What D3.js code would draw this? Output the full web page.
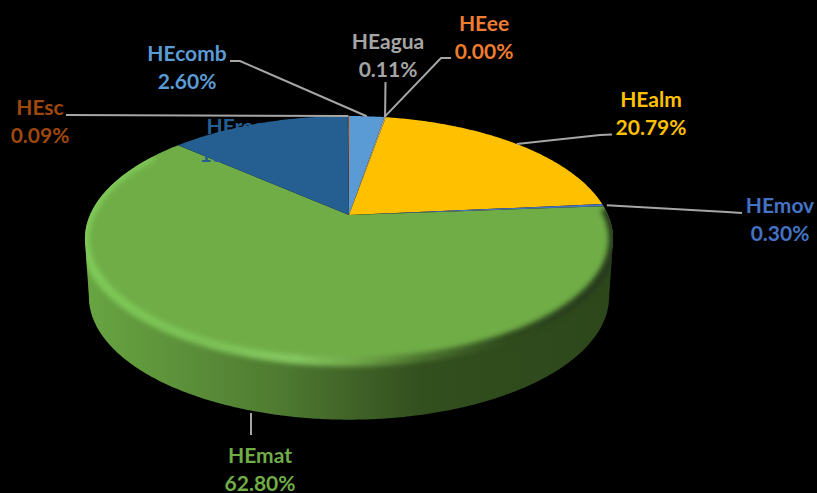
<!DOCTYPE html>
<html>
<head>
<meta charset="utf-8">
<script src="https://cdn.jsdelivr.net/npm/d3@7"></script>
<style>
  body { margin: 0; background: #000; }
  text { font-family: Lato, "Open Sans", sans-serif; font-weight: 700; font-size: 21px; text-anchor: middle; }
</style>
</head>
<body>
<div id="viz"></div>
<script>
// slice order follows the legend order of the original chart
const categories = ["HEcomb", "HEee", "HEagua", "HEalm", "HEmov", "HEmat", "HErec", "HEsc"]
const shares = [2.60, 0.00, 0.11, 20.79, 0.30, 62.80, 13.31, 0.09]
const colors = ["#5B9BD5", "#ED7D31", "#A5A5A5", "#FFC000", "#4472C4", "#70AD47", "#255E91", "#9E480E"]

// label layout: centre x and first baseline
const labelAt = {
  HEcomb: [187, 61], HEee: [484, 31], HEagua: [388, 49], HEalm: [651, 107],
  HEmov: [780, 213], HEmat: [260, 463], HErec: [235, 134], HEsc: [40, 115]
}
// leader elbows, from the label towards the slice
const elbows = {
  HEcomb: [[230, 61], [240, 61]],
  HEee: [[451, 58], [441, 58]],
  HEagua: [[385.5, 82]],
  HEalm: [[612, 134.5], [600, 135]],
  HEmov: [[742, 213], [727, 212]],
  HEmat: [[251, 435]],
  HEsc: [[66, 115]]
}

const width = 817
const height = 493
const cx = 349, cy = 215
const rx = 259, ry = 118.3
const tilt = -0.195 // perspective of the disc
const depth = 57.7, bottomScale = 0.985

const svg = d3.select("#viz").append("svg")
  .attr("width", width).attr("height", height)
  .style("display", "block")

// circle coordinates -> screen
function project (angle, r = 1) {
  const x = r * Math.sin(angle), y = -r * Math.cos(angle)
  const w = 1 + tilt * y
  return [cx + rx * x / w, cy + ry * y / w]
}
function lower ([x, y]) {
  return [cx + (x - cx) * bottomScale, y + depth]
}
function rimPoints (a0, a1) {
  const n = Math.max(2, Math.ceil(Math.abs(a1 - a0) / 0.01))
  return d3.range(n + 1).map(i => project(a0 + (a1 - a0) * i / n))
}

const pie = d3.pie().sort(null).value(d => d.share).startAngle(0).endAngle(2 * Math.PI)
const table = categories.map((name, i) => ({ name, share: shares[i], color: colors[i] }))
const arcs = pie(table)
const line = d3.line()

const defs = svg.append("defs")

const sideGrad = defs.append("linearGradient").attr("id", "side")
  .attr("gradientUnits", "userSpaceOnUse")
  .attr("x1", 85).attr("x2", 612).attr("y1", 0).attr("y2", 0)
sideGrad.selectAll("stop")
  .data([[0, "#68a542"], [0.2, "#5b8e39"], [0.36, "#4f7c31"], [0.5, "#416428"], [0.64, "#324f1e"], [1, "#2d471b"]])
  .join("stop").attr("offset", d => d[0]).attr("stop-color", d => d[1])

const edgeGrad = defs.append("linearGradient").attr("id", "edge")
  .attr("gradientUnits", "userSpaceOnUse")
  .attr("x1", 85).attr("x2", 612).attr("y1", 0).attr("y2", 0)
edgeGrad.selectAll("stop")
  .data([[0, "#7fcb58"], [0.22, "#7cc256"], [0.4, "#86c962"], [0.52, "#6ea547"], [0.64, "#4c7430"], [0.8, "#2f4a1d"], [1, "#26391a"]])
  .join("stop").attr("offset", d => d[0]).attr("stop-color", d => d[1])

defs.append("filter").attr("id", "soft")
  .attr("x", "-5%").attr("y", "-5%").attr("width", "110%").attr("height", "110%")
  .append("feGaussianBlur").attr("stdDeviation", 2.6)

// side wall, between the two points where the rim turns back
const tangent = Math.PI / 2 + Math.asin(-tilt)
const frontTop = rimPoints(tangent, 2 * Math.PI - tangent)
const wall = frontTop.concat(frontTop.map(lower).reverse())

const wrapper = svg.append("g")
wrapper.append("path")
  .attr("d", line(wall) + "Z")
  .attr("fill", "url(#side)")

const slicePath = d => {
  const pts = rimPoints(d.startAngle, d.endAngle)
  return line([[cx, cy], ...pts]) + "Z"
}

wrapper.append("g").selectAll("path")
  .data(arcs.filter(d => d.data.share > 0))
  .join("path")
  .attr("d", slicePath)
  .attr("fill", d => d.data.color)

// soft bevel along the green slice edge, kept inside the pie outline
const green = arcs.find(d => d.data.name === "HEmat")
const clip = defs.append("clipPath").attr("id", "solid")
clip.append("path").attr("d", line(wall) + "Z")
clip.append("path").attr("d", line(rimPoints(0, 2 * Math.PI)) + "Z")

wrapper.append("g").attr("clip-path", "url(#solid)")
  .append("path")
  .attr("d", line(rimPoints(green.startAngle + 0.02, green.endAngle - 0.15)))
  .attr("fill", "none")
  .attr("stroke", "url(#edge)")
  .attr("stroke-width", 9)
  .attr("filter", "url(#soft)")

// leader lines
const leaders = svg.append("g")
arcs.filter(d => elbows[d.data.name]).forEach(d => {
  const name = d.data.name
  const mid = (d.startAngle + d.endAngle) / 2
  let end = project(mid)
  if (name === "HEmat") end = [elbows[name][0][0], lower(end)[1] + 3]
  if (name === "HEmov") end = [end[0] + 4, end[1]]
  leaders.append("path")
    .attr("d", line([...elbows[name], end]))
    .attr("fill", "none")
    .attr("stroke", "#A6A6A6")
    .attr("stroke-width", 2)
})

// labels
const labels = svg.append("g").selectAll("text")
  .data(arcs)
  .join("text")
  .attr("fill", d => d.data.color)
  .attr("x", d => labelAt[d.data.name][0])
  .attr("y", d => labelAt[d.data.name][1])

labels.append("tspan").text(d => d.data.name)
labels.append("tspan")
  .attr("x", d => labelAt[d.data.name][0])
  .attr("dy", 27.5)
  .text(d => d.data.share.toFixed(2) + "%")
</script>
</body>
</html>
